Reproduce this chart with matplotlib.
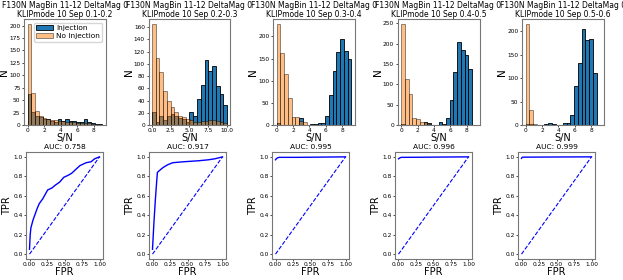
import numpy as np
import matplotlib
matplotlib.use("Agg")
import matplotlib.pyplot as plt

seps = ["0.1-0.2", "0.2-0.3", "0.3-0.4", "0.4-0.5", "0.5-0.6"]
sn_max = [9.0, 10.0, 9.1, 9.1, 9.1]

# histogram counts, 20 bins each between 0 and sn_max
inj_counts = [
    [62, 27, 18, 16, 13, 12, 8, 7, 13, 8, 12, 9, 8, 7, 6, 12, 6, 4, 2, 2],
    [22, 5, 14, 8, 14, 18, 14, 12, 10, 5, 21, 14, 42, 65, 107, 88, 96, 63, 50, 33],
    [4, 1, 0, 0, 0, 0, 15, 0, 1, 2, 3, 4, 5, 20, 68, 122, 165, 195, 167, 150],
    [3, 1, 0, 0, 0, 0, 8, 4, 0, 1, 8, 3, 17, 62, 130, 203, 185, 172, 138, 0],
    [2, 2, 0, 0, 0, 2, 5, 3, 1, 1, 5, 5, 21, 82, 133, 205, 180, 183, 110, 0],
]
noinj_counts = [
    [203, 65, 28, 18, 15, 12, 10, 10, 9, 8, 7, 7, 6, 5, 5, 4, 4, 3, 2, 1],
    [165, 110, 86, 56, 40, 30, 22, 14, 13, 10, 8, 5, 5, 6, 7, 8, 8, 7, 5, 3],
    [228, 162, 115, 62, 17, 17, 8, 7, 1, 0, 0, 0, 0, 0, 0, 0, 0, 0, 0, 0],
    [248, 112, 77, 18, 15, 8, 7, 3, 0, 0, 0, 0, 0, 0, 0, 0, 0, 0, 0, 0],
    [215, 33, 3, 0, 0, 0, 0, 0, 0, 0, 0, 0, 0, 0, 0, 0, 0, 0, 0, 0],
]

auc = [0.758, 0.917, 0.995, 0.996, 0.999]
fpr_list = [
    [0.0, 0.01, 0.02, 0.05, 0.08, 0.11, 0.14, 0.19, 0.26, 0.32, 0.37, 0.43, 0.49, 0.55, 0.6, 0.66, 0.72, 0.81, 0.88, 0.93, 1.0],
    [0.0, 0.02, 0.04, 0.06, 0.07, 0.1, 0.15, 0.22, 0.29, 0.45, 0.66, 0.8, 0.89, 1.0],
    [0.0, 0.01, 0.03, 0.05, 0.3, 0.6, 1.0],
    [0.0, 0.01, 0.02, 0.04, 0.3, 0.6, 1.0],
    [0.0, 0.005, 0.01, 0.02, 0.3, 0.6, 1.0],
]
tpr_list = [
    [0.05, 0.2, 0.27, 0.35, 0.41, 0.47, 0.52, 0.57, 0.66, 0.68, 0.71, 0.74, 0.79, 0.81, 0.83, 0.87, 0.91, 0.94, 0.95, 0.98, 1.0],
    [0.05, 0.32, 0.55, 0.75, 0.84, 0.86, 0.89, 0.92, 0.94, 0.95, 0.96, 0.97, 0.98, 1.0],
    [0.97, 0.98, 0.99, 0.995, 0.995, 0.997, 1.0],
    [0.98, 0.985, 0.99, 0.995, 0.996, 0.998, 1.0],
    [0.985, 0.99, 0.995, 0.997, 0.998, 0.999, 1.0],
]

fig = plt.figure(figsize=(6.23, 2.8), dpi=100)

for i in range(5):
    # histograms
    ax = fig.add_axes([(24 + 124.5 * i) / 623, 1 - 125 / 280, 82 / 623, 106 / 280])
    edges = np.linspace(0, sn_max[i], 21)
    w = np.diff(edges)
    ax.bar(edges[:-1], inj_counts[i], width=w, align='edge', color='C0',
           edgecolor='black', lw=0.6, label='Injection')
    ax.bar(edges[:-1], noinj_counts[i], width=w, align='edge', color='C1',
           edgecolor='black', lw=0.6, alpha=0.5, label='No Injection')
    ax.set_title('F130N MagBin 11-12 DeltaMag 0\nKLIPmode 10 Sep ' + seps[i],
                 fontsize=5.5, pad=1.5, linespacing=1.0)
    ax.set_xlabel('S/N', fontsize=7, labelpad=0)
    ax.set_ylabel('N', fontsize=7.5, labelpad=0)
    ax.tick_params(labelsize=4.2, length=1.5, width=0.5, pad=1)
    if i == 1:
        ax.set_xticks([0, 2.5, 5, 7.5, 10])
    else:
        ax.set_xticks([0, 2, 4, 6, 8])
    ax.set_xlim(-0.45, sn_max[i] + 0.45)
    for s in ax.spines.values():
        s.set_color('#777777')
        s.set_linewidth(0.8)
    if i == 0:
        ax.legend(fontsize=5.3, loc='upper right', handlelength=2.2,
                  borderpad=0.3, labelspacing=0.3, handletextpad=0.5)

    # ROC curves
    ax2 = fig.add_axes([(26 + 123 * i) / 623, 1 - 259 / 280, 77 / 623, 107 / 280])
    ax2.plot(fpr_list[i], tpr_list[i], color='blue', lw=1.0)
    ax2.plot([0, 1], [0, 1], color='blue', ls='--', lw=0.8)
    ax2.set_title('AUC: %.3f' % auc[i], fontsize=5.4, pad=2)
    ax2.set_xlabel('FPR', fontsize=7, labelpad=0)
    ax2.set_ylabel('TPR', fontsize=7, labelpad=1)
    ax2.tick_params(labelsize=4.2, length=1.5, width=0.5, pad=1)
    ax2.set_xlim(-0.05, 1.05)
    ax2.set_ylim(-0.05, 1.05)
    ax2.set_xticks([0, 0.25, 0.5, 0.75, 1.0])
    for s in ax2.spines.values():
        s.set_color('#777777')
        s.set_linewidth(0.8)

fig.savefig('out.png', dpi=100)
